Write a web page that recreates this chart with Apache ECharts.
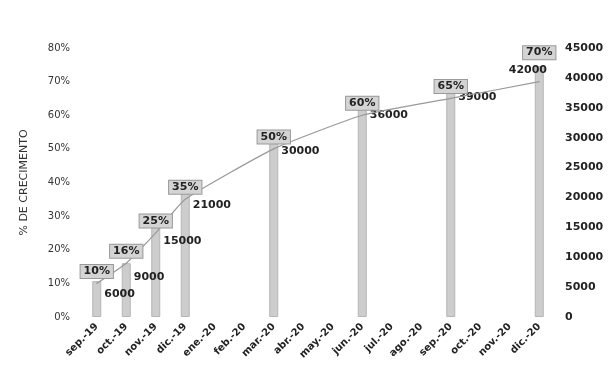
<!DOCTYPE html>
<html>
<head>
<meta charset="utf-8">
<script src="https://cdn.jsdelivr.net/npm/echarts@6/dist/echarts.min.js"></script>
<style>
  html, body { margin: 0; padding: 0; background: #fff; }
  #chart { width: 610px; height: 391px; }
</style>
</head>
<body>
<div id="chart"></div>
<script>
const months = ['sep.-19', 'oct.-19', 'nov.-19', 'dic.-19', 'ene.-20', 'feb.-20', 'mar.-20', 'abr.-20',
  'may.-20', 'jun.-20', 'jul.-20', 'ago.-20', 'sep.-20', 'oct.-20', 'nov.-20', 'dic.-20']
// units per month (right axis), null where there is no bar
const units = [6000, 9000, 15000, 21000, null, null, 30000, null, null, 36000, null, null, 39000, null, null, 42000]
// growth percentage (left axis)
const growth = [10, 16, 25, 35, null, null, 50, null, null, 60, null, null, 65, null, null, 70]

const font = 'DejaVu Sans'
const chart = echarts.init(document.getElementById('chart'))

const last = months.length - 1
// last bar label sits left of the bar, under the last % box
const barData = units.map((v, i) => i === last
  ? { value: v, label: { position: [-26, -1] } }
  : v)
const lineData = growth.map((v, i) => i === last
  ? { value: v, label: { distance: 22 } }
  : v)

chart.setOption({
  backgroundColor: '#fff',
  animation: false,
  grid: { left: 82, right: 56, top: 48, bottom: 74 },
  xAxis: {
    type: 'category',
    data: months,
    axisLine: { show: false },
    axisTick: { show: false },
    axisLabel: {
      rotate: 45,
      interval: 0,
      margin: 8,
      color: '#222',
      fontFamily: font,
      fontWeight: 'bold',
      fontSize: 10
    }
  },
  yAxis: [
    {
      type: 'value',
      min: 0,
      max: 80,
      interval: 10,
      name: '% DE CRECIMENTO',
      nameLocation: 'middle',
      nameGap: 52,
      nameTextStyle: { color: '#333', fontFamily: font, fontSize: 11 },
      splitLine: { show: false },
      axisLine: { show: false },
      axisTick: { show: false },
      axisLabel: {
        formatter: '{value}%',
        margin: 12,
        color: '#333',
        fontFamily: font,
        fontSize: 10
      }
    },
    {
      type: 'value',
      min: 0,
      max: 45000,
      interval: 5000,
      splitLine: { show: false },
      axisLine: { show: false },
      axisTick: { show: false },
      axisLabel: {
        formatter: v => String(v),
        margin: 11,
        color: '#222',
        fontFamily: font,
        fontWeight: 'bold',
        fontSize: 11
      }
    }
  ],
  series: [
    {
      type: 'bar',
      yAxisIndex: 1,
      barWidth: 9,
      data: barData,
      itemStyle: { color: '#cdcdcd', borderColor: '#b5b5b5', borderWidth: 1 },
      label: {
        show: true,
        position: [12, 8],
        color: '#222',
        fontFamily: font,
        fontWeight: 'bold',
        fontSize: 11
      }
    },
    {
      type: 'line',
      yAxisIndex: 0,
      data: lineData,
      connectNulls: true,
      smooth: 0.15,
      symbol: 'circle',
      symbolSize: 1,
      showSymbol: true,
      showAllSymbol: true,
      itemStyle: { color: '#999' },
      lineStyle: { color: '#999', width: 1.2 },
      label: {
        show: true,
        position: 'top',
        distance: 5,
        formatter: '{c}%',
        color: '#222',
        fontFamily: font,
        fontWeight: 'bold',
        fontSize: 11,
        backgroundColor: '#d4d4d4',
        borderColor: '#999',
        borderWidth: 1,
        padding: [1, 3]
      }
    }
  ]
})
</script>
</body>
</html>
